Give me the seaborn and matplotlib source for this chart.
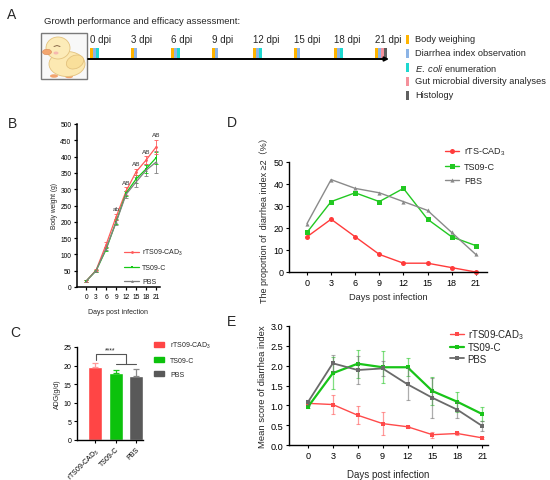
import numpy as np
import pandas as pd
import matplotlib
matplotlib.use("Agg")
import matplotlib.pyplot as plt
import seaborn as sns
from matplotlib.patches import Rectangle, Ellipse, Patch

# ---------------- data ----------------
days = [0, 3, 6, 9, 12, 15, 18, 21]

# A: schedule (index into events) per dpi
events = ["Body weighing", "Diarrhea index observation",
          "$\\mathit{E.\\ coli}$ enumeration",
          "Gut microbial diversity analyses", "Histology"]
event_colors = ["#FFB400", "#8CB4E6", "#1ED8D0", "#F5919B", "#606060"]
schedule = [[0, 1, 2], [0, 1], [0, 1, 2], [0, 1], [0, 1, 2], [0, 1], [0, 1, 2], [0, 1, 3, 4]]

# B: body weight (g)
bw_rts = [18, 52, 130, 215, 294, 353, 389, 429]
bw_rts_sd = [2, 4, 8, 10, 12, 10, 12, 22]
bw_ts = [18, 50, 115, 200, 288, 331, 362, 396]
bw_ts_sd = [2, 3, 6, 8, 8, 12, 12, 18]
bw_pbs = [18, 50, 118, 198, 284, 322, 358, 383]
bw_pbs_sd = [2, 3, 6, 8, 10, 15, 18, 33]
bw_letters = ["", "", "", "ab", "AB", "AB", "AB", "AB"]

# C: ADG (g/d)
adg_groups = ["rTS09-CAD$_3$", "TS09-C", "PBS"]
adg_mean = [19.5, 18.0, 17.3]
adg_sd = [1.3, 0.8, 1.8]

# D: proportion of diarrhea index >= 2 (%)
prop_rts = [16, 24, 16, 8, 4, 4, 2, 0]
prop_ts = [18, 32, 36, 32, 38, 24, 16, 12]
prop_pbs = [22, 42, 38, 36, 32, 28, 18, 8]

# E: mean diarrhea score
score_rts = [1.05, 1.02, 0.75, 0.54, 0.46, 0.26, 0.29, 0.18]
score_rts_sd = [0.05, 0.23, 0.23, 0.28, 0.03, 0.08, 0.05, 0.03]
score_ts = [0.96, 1.81, 2.05, 1.96, 1.96, 1.36, 1.09, 0.78]
score_ts_sd = [0.03, 0.40, 0.35, 0.40, 0.23, 0.35, 0.25, 0.18]
score_pbs = [1.08, 2.06, 1.89, 1.93, 1.53, 1.19, 0.89, 0.48]
score_pbs_sd = [0.06, 0.20, 0.35, 0.20, 0.40, 0.50, 0.20, 0.12]

# ---------------- style ----------------
sns.set_style("ticks")
plt.rcParams['font.family'] = ['Liberation Sans', 'Noto Sans CJK SC', 'DejaVu Sans']
plt.rcParams['mathtext.fontset'] = 'custom'
plt.rcParams['mathtext.rm'] = 'Liberation Sans'
plt.rcParams['mathtext.it'] = 'Liberation Sans:italic'

W, H = 550, 481
fig = plt.figure(figsize=(5.5, 4.81), dpi=100)


def box(x0, y0, x1, y1):
    # pixel box (top-left origin) -> figure fraction
    return [x0 / W, 1 - y1 / H, (x1 - x0) / W, (y1 - y0) / H]


def style(ax, fs, lw=1.0):
    sns.despine(ax=ax)
    for s in ['left', 'bottom']:
        ax.spines[s].set_linewidth(lw)
        ax.spines[s].set_color('black')
    ax.tick_params(labelsize=fs, length=2.5, width=lw * 0.8, pad=1.5, colors='black')


def fig_legend(ax, x, y, fs, **kw):
    leg = ax.legend(loc='upper left', bbox_to_anchor=(x / W, 1 - y / H),
                    bbox_transform=fig.transFigure, frameon=False, fontsize=fs,
                    borderaxespad=0, borderpad=0, **kw)
    return leg


# ---------------- A: timeline ----------------
ax_a = fig.add_axes([0, 1 - 110 / H, 1, 110 / H])
ax_a.set_xlim(0, W)
ax_a.set_ylim(110, 0)
ax_a.axis('off')
ax_a.text(12, 15, "A", fontsize=10, ha='center', va='center')
ax_a.text(44, 21, "Growth performance and efficacy assessment:", fontsize=6.8, va='center')

# chick picture
edge = '#E3C27E'
ax_a.add_patch(Rectangle((41, 34), 46, 46, facecolor='#F8F8F8', edgecolor='#7A7A7A', lw=1.0))
ax_a.add_patch(Ellipse((54, 77), 8, 3.5, facecolor='#F2A46E', lw=0))
ax_a.add_patch(Ellipse((69, 77.5), 8, 3.5, facecolor='#F2A46E', lw=0))
ax_a.add_patch(Ellipse((67, 65), 36, 25, facecolor='#FCE9B2', edgecolor=edge, lw=0.6))
ax_a.add_patch(Ellipse((75, 63), 18, 13, angle=-25, facecolor='#F9DF9A', edgecolor=edge, lw=0.6))
ax_a.add_patch(Ellipse((58, 49), 24, 22, facecolor='#FCEBB8', edgecolor=edge, lw=0.6))
ax_a.add_patch(Ellipse((47, 53), 9, 5.5, facecolor='#F3A66F', edgecolor='#D98A5A', lw=0.4))
ax_a.add_patch(Ellipse((56, 54), 5, 3, facecolor='#F6B9B0', lw=0))
ax_a.plot([54, 57, 60], [47.5, 46.5, 47.5], color='#8A6A4A', lw=0.7)

# timeline arrow
ax_a.annotate('', xy=(389, 60), xytext=(88, 60),
              arrowprops=dict(arrowstyle='-|>', lw=1.4, color='black',
                              mutation_scale=6, shrinkA=0, shrinkB=0))
for d, evs in zip(days, schedule):
    x = 90 + d * 13.57
    for i, e in enumerate(evs):
        ax_a.add_patch(Rectangle((x + i * 3, 49), 3, 10, color=event_colors[e], lw=0))
    ax_a.text(x, 40, f"{d} dpi", fontsize=7, ha='left', va='center')

for i, (e, c) in enumerate(zip(events, event_colors)):
    y = 40 + i * 14
    ax_a.add_patch(Rectangle((406, y - 4.5), 3, 9, color=c, lw=0))
    ax_a.text(415, y, e, fontsize=6.7, va='center')

# ---------------- B: body weight ----------------
fig.text(12 / W, 1 - 124 / H, "B", fontsize=10, ha='center', va='center')
ax_b = fig.add_axes(box(77, 125, 160, 288))
b_series = [(bw_rts, bw_rts_sd, "rTS09-CAD$_3$", "#FF5A5A", 'o'),
            (bw_ts, bw_ts_sd, "TS09-C", "#16C916", 's'),
            (bw_pbs, bw_pbs_sd, "PBS", "#7F7F7F", '^')]
for vals, sd, name, c, m in b_series[::-1]:
    ax_b.errorbar(days, vals, yerr=sd, fmt='none', ecolor=c, elinewidth=0.6,
                  capsize=1.2, capthick=0.6, zorder=2)
for vals, sd, name, c, m in b_series:
    sns.lineplot(x=days, y=vals, color=c, marker=m, markersize=2, markeredgewidth=0,
                 lw=0.9, label=name, ax=ax_b, zorder=3)
for d, v, s, t in zip(days, bw_rts, bw_rts_sd, bw_letters):
    if t:
        ax_b.text(d, v + s + 8, t, fontsize=4.6, ha='center', va='bottom', color='#333333')
ax_b.set_xlim(-2.74, 22.2)
ax_b.set_ylim(0, 500)
ax_b.set_xticks(days)
ax_b.set_yticks(range(0, 501, 50))
ax_b.set_xlabel("Days post infection", fontsize=5, labelpad=6)
ax_b.set_ylabel("Body weight (g)", fontsize=4.8, labelpad=2)
style(ax_b, 4.8, lw=1.1)
fig_legend(ax_b, 124, 248, 5, handlelength=2.2, labelspacing=1.0, handletextpad=0.4)

# ---------------- C: ADG ----------------
fig.text(15 / W, 1 - 333 / H, "C", fontsize=10, ha='center', va='center')
ax_c = fig.add_axes(box(77, 348, 143, 441))
c_colors = ["#FF4545", "#0CC20C", "#595959"]
c_err_colors = ["#FF9A9A", "#1BC41B", "#8A8A8A"]
sns.barplot(x=adg_groups, y=adg_mean, hue=adg_groups, palette=c_colors, legend=False,
            width=0.68, saturation=1, ax=ax_c, zorder=2)
for i, (m, s) in enumerate(zip(adg_mean, adg_sd)):
    ax_c.errorbar(i, m, yerr=[[0], [s]], fmt='none', ecolor=c_err_colors[i],
                  elinewidth=0.9, capsize=2.5, capthick=0.9, zorder=3)
ax_c.plot([0.05, 0.05, 1.5, 1.5], [21.6, 23.1, 23.1, 20.4], color='#555555', lw=0.8)
ax_c.plot([1, 2], [20.4, 20.4], color='#555555', lw=0.8)
ax_c.text(0.75, 23.2, "****", fontsize=5, ha='center', va='bottom')
ax_c.set_xlim(-0.88, 2.34)
ax_c.set_ylim(0, 25)
ax_c.set_yticks(range(0, 26, 5))
ax_c.set_ylabel("ADG(g/d)", fontsize=5, labelpad=2)
style(ax_c, 5, lw=1.0)
ax_c.set_xticks(range(3))
ax_c.set_xticklabels(adg_groups, rotation=45, ha='right', rotation_mode='anchor', fontsize=5)
fig_legend(ax_c, 154, 341, 5,
           handles=[Patch(color=c, label=l) for c, l in zip(c_colors, adg_groups)],
           handlelength=1.5, handleheight=0.7, labelspacing=1.0, handletextpad=0.8)

# ---------------- D: diarrhea proportion ----------------
fig.text(232 / W, 1 - 123 / H, "D", fontsize=10, ha='center', va='center')
ax_d = fig.add_axes(box(289, 163, 487, 273))
d_series = [(prop_rts, "rTS-CAD$_3$", "#FF3B3B", 'o', 3.6),
            (prop_ts, "TS09-C", "#22C822", 's', 3.6),
            (prop_pbs, "PBS", "#8A8A8A", '^', 3.0)]
for vals, name, c, m, ms in d_series:
    sns.lineplot(x=days, y=vals, color=c, marker=m, markersize=ms, markeredgewidth=0,
                 lw=1.0, label=name, ax=ax_d, clip_on=False)
ax_d.set_xlim(-2.24, 22.4)
ax_d.set_ylim(0, 50)
ax_d.set_xticks(days)
ax_d.set_yticks(range(0, 51, 10))
ax_d.set_xlabel("Days post infection", fontsize=6.7, labelpad=4)
ax_d.set_ylabel("The proportion of  diarrhea index ≥2（%）", fontsize=6.5, labelpad=3)
style(ax_d, 6.5, lw=1.0)
fig_legend(ax_d, 445, 146, 6.5, handlelength=1.6, labelspacing=0.55, handletextpad=0.5)

# ---------------- E: diarrhea score ----------------
fig.text(232 / W, 1 - 322 / H, "E", fontsize=10, ha='center', va='center')
ax_e = fig.add_axes(box(289, 327, 488, 446))
e_series = [(score_rts, score_rts_sd, "rTS09-CAD$_3$", "#FF4A4A", 1.0),
            (score_ts, score_ts_sd, "TS09-C", "#18C418", 1.6),
            (score_pbs, score_pbs_sd, "PBS", "#6A6A6A", 1.3)]
for vals, sd, name, c, lw in e_series:
    ax_e.errorbar(days, vals, yerr=sd, fmt='none', ecolor=c, alpha=0.55,
                  elinewidth=0.9, capsize=1.5, capthick=0.8)
    sns.lineplot(x=days, y=vals, color=c, marker='s', markersize=2.2, markeredgewidth=0,
                 lw=lw, label=name, ax=ax_e, clip_on=False)
ax_e.set_xlim(-2.28, 21.7)
ax_e.set_ylim(0, 3)
ax_e.set_xticks(days)
ax_e.set_yticks(np.arange(0, 3.01, 0.5))
ax_e.set_yticklabels([f"{v:.1f}" for v in np.arange(0, 3.01, 0.5)])
ax_e.set_xlabel("Days post infection", fontsize=7, labelpad=7)
ax_e.set_ylabel("Mean score of diarrhea index", fontsize=6.8, labelpad=3)
style(ax_e, 6.6, lw=1.0)
fig_legend(ax_e, 450, 328, 7, handlelength=1.4, labelspacing=0.15, handletextpad=0.4)

fig.savefig("out.png", dpi=100)
